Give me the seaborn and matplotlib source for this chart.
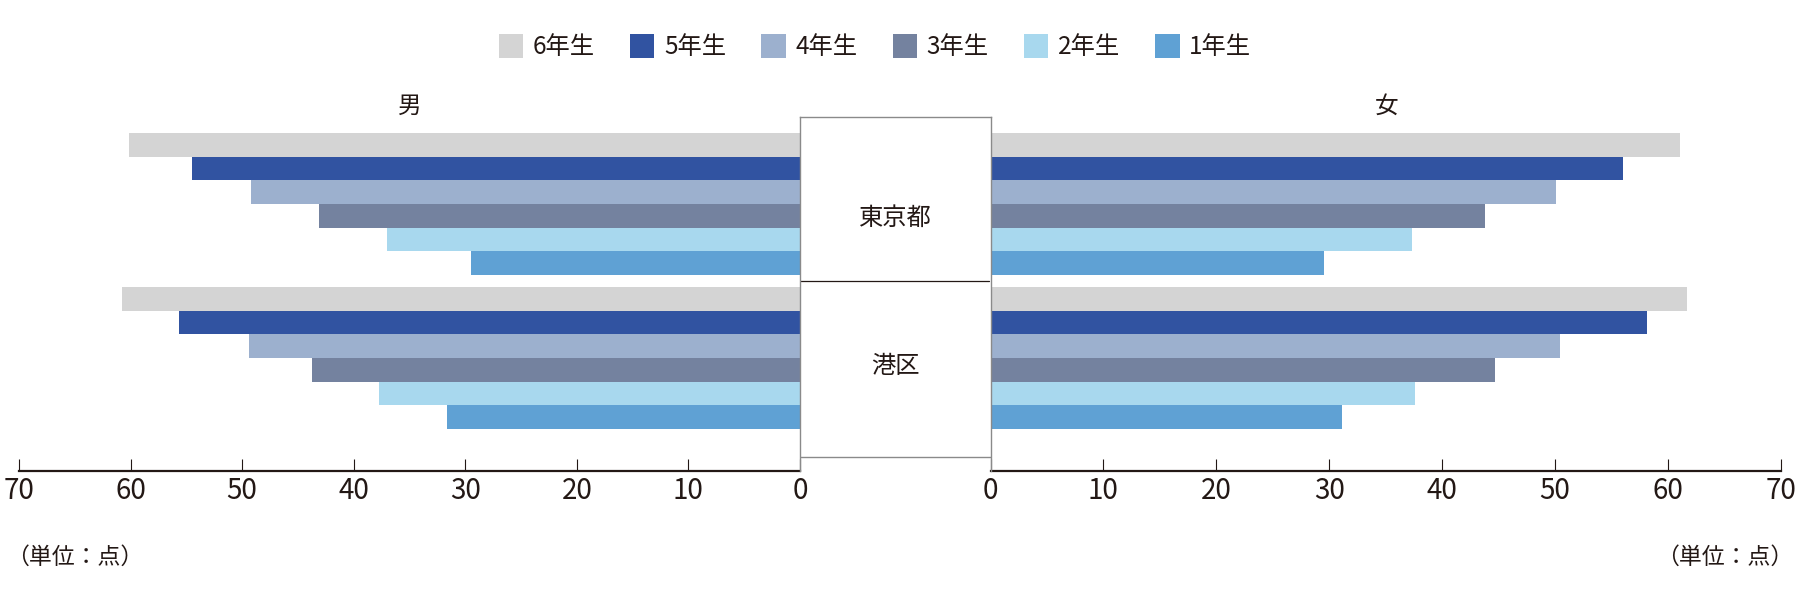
import matplotlib
matplotlib.use("Agg")
import matplotlib.pyplot as plt
from matplotlib import font_manager
from matplotlib.patches import Patch
import seaborn as sns
import pandas as pd

# ---- data ----
regions = ["東京都", "港区"]
grades = ["6年生", "5年生", "4年生", "3年生", "2年生", "1年生"]
colors = ["#d4d4d4", "#3153a1", "#9cb0ce", "#74829f", "#a8d8ee", "#5fa1d4"]
male_tokyo = [60.1, 54.5, 49.2, 43.1, 37.0, 29.5]
male_minato = [60.8, 55.7, 49.4, 43.7, 37.7, 31.6]
female_tokyo = [61.1, 56.0, 50.1, 43.8, 37.3, 29.5]
female_minato = [61.7, 58.1, 50.4, 44.7, 37.6, 31.1]
ticks = [0, 10, 20, 30, 40, 50, 60, 70]

sns.set_theme(style="white")
CJK = "Noto Sans CJK JP"
plt.rcParams["font.family"] = [CJK, "DejaVu Sans"]
names = {f.name for f in font_manager.fontManager.ttflist}
NUMF = "Liberation Sans Narrow" if "Liberation Sans Narrow" in names else CJK
TXT = "#231815"

def frame(tokyo, minato):
    rows = []
    for reg, vals in zip(regions, [tokyo, minato]):
        for g, v in zip(grades, vals):
            rows.append({"region": reg, "grade": g, "score": v})
    return pd.DataFrame(rows)

df_m = frame(male_tokyo, male_minato)
df_f = frame(female_tokyo, female_minato)

W, H = 1800, 598
fig = plt.figure(figsize=(W / 100, H / 100), dpi=100)

top_px, bot_px = 117.3, 470.7
ax_b = 1 - bot_px / H
ax_h = (bot_px - top_px) / H
ylim = (1.7325, -0.5623)

axL = fig.add_axes([19 / W, ax_b, (800 - 19) / W, ax_h])
axR = fig.add_axes([990.5 / W, ax_b, (1781 - 990.5) / W, ax_h])
axM = fig.add_axes([800 / W, ax_b, (990.5 - 800) / W, ax_h])

for ax, df in [(axL, df_m), (axR, df_f)]:
    sns.barplot(data=df, x="score", y="region", hue="grade", order=regions,
                hue_order=grades, palette=colors, saturation=1, orient="h",
                width=0.92, linewidth=0, ax=ax, legend=False, errorbar=None)
    ax.set_ylim(*ylim)
    ax.set_ylabel("")
    ax.set_xlabel("")
    ax.set_yticks([])
    for s in ["top", "left", "right"]:
        ax.spines[s].set_visible(False)
    ax.spines["bottom"].set_color(TXT)
    ax.spines["bottom"].set_linewidth(1.6)
    ax.set_xticks(ticks)
    ax.set_xticklabels([str(t) for t in ticks], fontfamily=NUMF, fontsize=20, color=TXT)
    ax.tick_params(axis="x", direction="in", length=8.9, width=0.8, color=TXT,
                   pad=4, bottom=True)
    ax.patch.set_alpha(0)

axL.set_xlim(70, 0)
axR.set_xlim(0, 70)

# center box
axM.set_xlim(0, 1)
axM.set_ylim(*ylim)
axM.set_xticks([])
axM.set_yticks([])
axM.patch.set_alpha(0)
axM.spines["bottom"].set_visible(False)
for s in ["top", "left", "right"]:
    axM.spines[s].set_color("#8a8a8a")
    axM.spines[s].set_linewidth(1.0)
axM.axhline(0.5, xmin=-0.01, xmax=0.99, color=TXT, lw=0.9)
axM.axhline(1.645, color="#8a8a8a", lw=1.0)
axM.text(0.5, 0.09, regions[0], ha="center", va="center", fontsize=17.5, color=TXT)
axM.text(0.5, 1.05, regions[1], ha="center", va="center", fontsize=17.5, color=TXT)

# gender labels
fig.text(410 / W, 1 - 106 / H, "男", ha="center", va="center", fontsize=17, color=TXT)
fig.text(1387 / W, 1 - 106 / H, "女", ha="center", va="center", fontsize=17, color=TXT)

# units
fig.text(6 / W, 1 - 557.5 / H, "（単位：点）", ha="left", va="center", fontsize=16.5, color=TXT)
fig.text(1793 / W, 1 - 557.5 / H, "（単位：点）", ha="right", va="center", fontsize=16.5, color=TXT)

# legend
handles = [Patch(facecolor=c, edgecolor="none") for c in colors]
fig.legend(handles, grades, loc="center", bbox_to_anchor=(875 / W, 1 - 47 / H),
           ncol=6, frameon=False, fontsize=17.5, handlelength=1.0, handleheight=1.15,
           handletextpad=0.4, columnspacing=1.45, labelcolor=TXT)

fig.savefig("out.png", dpi=100)
